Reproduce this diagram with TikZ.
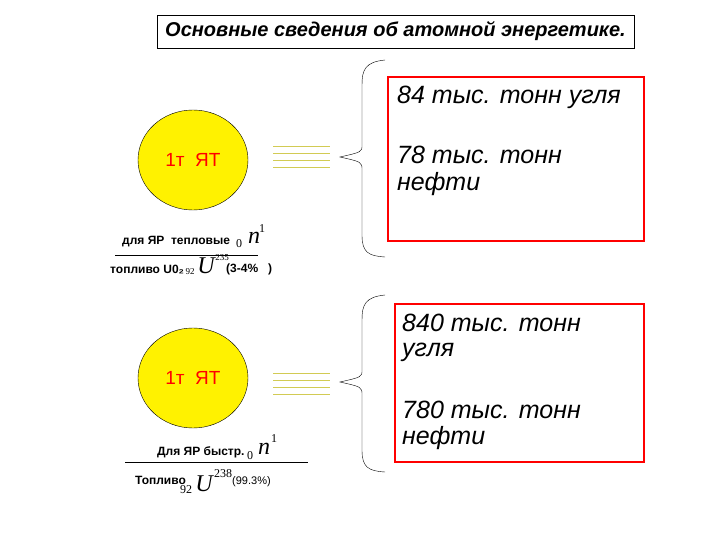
\documentclass[tikz,border=0pt]{standalone}
\usepackage{fontspec}
\setmainfont{Liberation Sans}
\newfontfamily\serifU{Liberation Serif}
\usetikzlibrary{shapes.geometric}
\begin{document}
\begin{tikzpicture}[x=1pt,y=-1pt,
 big/.style={font=\fontsize{25}{27}\selectfont\itshape,anchor=west,inner sep=0},
 sm/.style={font=\fontsize{12}{13}\selectfont\bfseries,inner sep=0},
 math/.style={font=\serifU\itshape\fontsize{24}{26}\selectfont,inner sep=0},
 sup/.style={font=\serifU\fontsize{12}{13}\selectfont,inner sep=0},
 core/.style={ellipse,draw,fill=yellow,minimum width=110,minimum height=100,text=red,font=\fontsize{19}{21}\selectfont},
 rbox/.style={draw=red,line width=1.5pt},
 eq/.style={draw=yellow!60!gray,line width=0.6pt}]
\useasboundingbox (0,0) rectangle (720,540);
\node[draw,thick,minimum width=477,minimum height=33,font=\fontsize{20}{22}\selectfont\bfseries\itshape] (title) at (395.5,31.5) {Основные сведения об атомной энергетике.};
% top
\node[core] (c1) at (193,160) {1т\ \ ЯТ};
\foreach \y in {146,153,160,167} \draw[eq] (273,\y) -- (330,\y);
\draw (385,60) .. controls (365,62) and (362,70) .. (362,85) -- (362,145) .. controls (362,152) .. (340,157) .. controls (362,162) .. (362,170) -- (362,235) .. controls (362,252) and (368,256) .. (385,257);
\draw[rbox] (388,77) rectangle (644,241);
\node[big] (t1) at (397,97) {84 тыс. тонн угля};
\node[big] (t2) at (397,155) {78 тыс. тонн};
\node[big] (t3) at (397,184) {нефти};
\node[sm,anchor=west] (f1) at (122,242) {для ЯР\ \ тепловые};
\node[sup] (z1) at (239,244) {0};
\node[math] (n1) at (254,238) {n};
\node[sup] (s1) at (262,229) {1};
\draw (115,255) -- (258,255);
\node[sm,anchor=west] (g1) at (110,269) {топливо U0₂};
\node[sup,font=\serifU\fontsize{9}{10}\selectfont] (g2) at (190,272) {92};
\node[math] (u1) at (206,266) {U};
\node[sup,font=\serifU\fontsize{9}{10}\selectfont] (g3) at (222,258) {235};
\node[sm,anchor=west] (g4) at (226,269) {(3-4\%\ \ \ )};
% bottom
\node[core] (c2) at (193,378) {1т\ \ ЯТ};
\foreach \y in {373,380,387,394} \draw[eq] (273,\y) -- (330,\y);
\draw (385,295) .. controls (365,297) and (362,305) .. (362,320) -- (362,370) .. controls (362,377) .. (340,382) .. controls (362,387) .. (362,395) -- (362,450) .. controls (362,467) and (368,471) .. (385,472);
\draw[rbox] (395,304) rectangle (644,462);
\node[big] (b1) at (402,323) {840 тыс. тонн};
\node[big] (b2) at (402,352) {угля};
\node[big] (b3) at (402,410) {780 тыс. тонн};
\node[big] (b4) at (402,438) {нефти};
\node[sm,anchor=west] (h1) at (157,452) {Для ЯР быстр.};
\node[sup] (z2) at (250,456) {0};
\node[math] (n2) at (264,449) {n};
\node[sup] (s2) at (274,439) {1};
\draw (125,462) -- (308,462);
\node[sm,anchor=west] (k1) at (135,480) {Топливо};
\node[sup] (k2) at (186,490) {92};
\node[math] (u2) at (204,484) {U};
\node[sup] (k3) at (223,474) {238};
\node[font=\fontsize{11}{12}\selectfont,anchor=west,inner sep=0] (k4) at (232,482) {(99.3\%)};
\end{tikzpicture}
\end{document}
